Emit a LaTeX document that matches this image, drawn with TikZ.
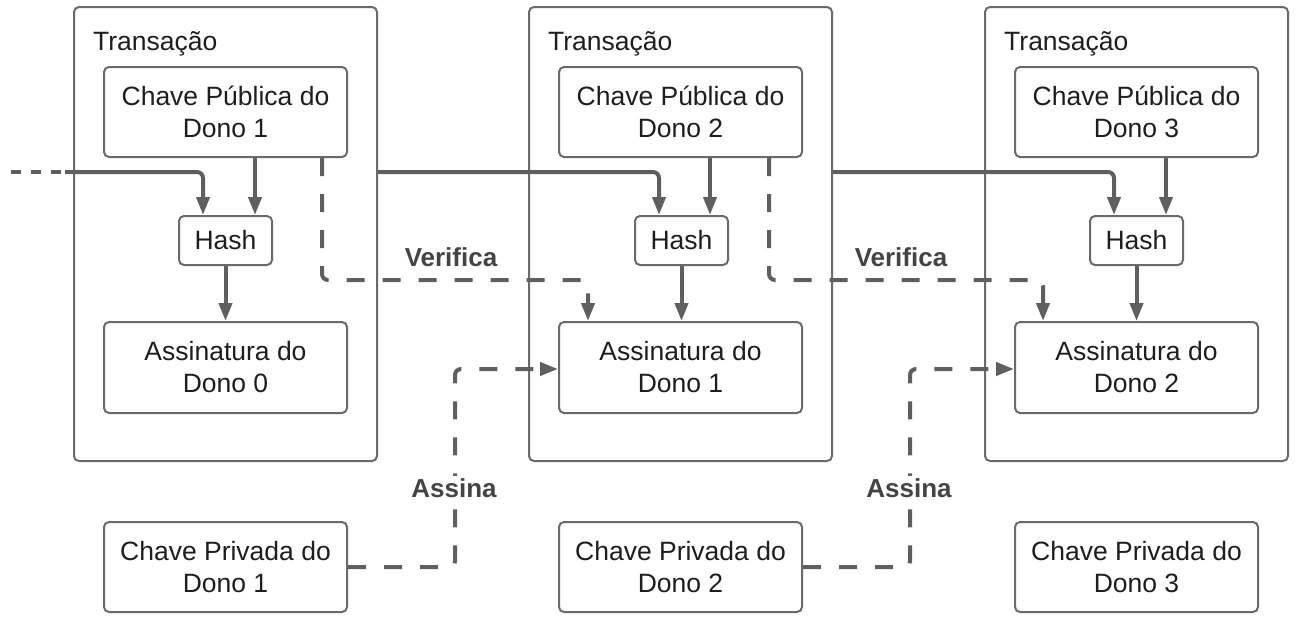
\documentclass[tikz,border=0pt]{standalone}
\usepackage{fontspec}
\setmainfont{Liberation Sans}
\usetikzlibrary{arrows.meta}
\definecolor{boxline}{HTML}{6A6A6A}
\definecolor{conn}{HTML}{5F5F5F}
\definecolor{lbl}{HTML}{444444}
\definecolor{txt}{HTML}{1E1E1E}
\begin{document}
\begin{tikzpicture}[x=1pt,y=-1pt,
  every node/.style={font=\fontsize{26.5}{32}\selectfont, text=txt},
  txbox/.style={draw=boxline, line width=2pt, rounded corners=5pt, minimum width=303pt, minimum height=454pt, inner sep=0pt},
  keybox/.style={draw=boxline, line width=2pt, rounded corners=5pt, fill=white, minimum width=243pt, minimum height=90pt, inner sep=0pt, align=center},
  hashbox/.style={draw=boxline, line width=2pt, rounded corners=5pt, fill=white, minimum width=93pt, minimum height=49pt, inner sep=0pt},
  txlabel/.style={anchor=base west, inner sep=0pt},
  solidconn/.style={draw=conn, line width=4pt, rounded corners=6pt, -{Triangle[length=18pt,width=13pt]}},
  dashconn/.style={draw=conn, line width=4pt, rounded corners=6pt, dash pattern=on 18pt off 18pt, -{Triangle[length=18pt,width=13pt]}},
  connlabel/.style={font=\bfseries\fontsize{26}{30}\selectfont, text=lbl, fill=white, inner sep=2pt}
]
\useasboundingbox (0,0) rectangle (1297,622);

% transaction boxes
\node[txbox] (tx1) at (225.5,234) {};
\node[txbox] (tx2) at (680.5,234) {};
\node[txbox] (tx3) at (1136.5,234) {};
\node[txlabel] (tl1) at (93,50) {Transação};
\node[txlabel] (tl2) at (548,50) {Transação};
\node[txlabel] (tl3) at (1004,50) {Transação};

% public keys
\node[keybox] (pub1) at (225.5,112) {Chave Pública do\\Dono 1};
\node[keybox] (pub2) at (680.5,112) {Chave Pública do\\Dono 2};
\node[keybox] (pub3) at (1136.5,112) {Chave Pública do\\Dono 3};

% hashes
\node[hashbox] (h1) at (225.5,240.5) {Hash};
\node[hashbox] (h2) at (681.5,240.5) {Hash};
\node[hashbox] (h3) at (1136.5,240.5) {Hash};

% signatures
\node[keybox, minimum height=91pt] (sig1) at (225.5,367.5) {Assinatura do\\Dono 0};
\node[keybox, minimum height=91pt] (sig2) at (680.5,367.5) {Assinatura do\\Dono 1};
\node[keybox, minimum height=91pt] (sig3) at (1136.5,367.5) {Assinatura do\\Dono 2};

% private keys
\node[keybox] (priv1) at (225.5,567) {Chave Privada do\\Dono 1};
\node[keybox] (priv2) at (680.5,567) {Chave Privada do\\Dono 2};
\node[keybox] (priv3) at (1136.5,567) {Chave Privada do\\Dono 3};

% incoming line from the left
\coordinate (in0) at (11,172);
\coordinate (in1) at (65,172);
\draw[draw=conn, line width=4pt, dash pattern=on 10pt off 10pt] (in0) -- (in1);
\draw[solidconn] (in1) -- (203,172) -- ([xshift=-22.5pt]h1.north);

% public key -> hash
\draw[solidconn] ([xshift=29.5pt]pub1.south) -- ([xshift=29.5pt]pub1.south |- h1.north);
\draw[solidconn] ([xshift=29.5pt]pub2.south) -- ([xshift=29.5pt]pub2.south |- h2.north);
\draw[solidconn] ([xshift=29.5pt]pub3.south) -- ([xshift=29.5pt]pub3.south |- h3.north);

% hash -> signature
\draw[solidconn] (h1.south) -- (h1.south |- sig1.north);
\draw[solidconn] (h2.south) -- (h2.south |- sig2.north);
\draw[solidconn] (h3.south) -- (h3.south |- sig3.north);

% transaction -> next hash
\draw[solidconn] (tx1.east |- 0,172) -- (659,172) -- (659,0 |- h2.north);
\draw[solidconn] (tx2.east |- 0,172) -- (1114,172) -- (1114,0 |- h3.north);

% verifica
\draw[dashconn] ([xshift=96.5pt]pub1.south) -- (322,280) -- (588,280) -- (588,0 |- sig2.north);
\draw[dashconn] ([xshift=88.5pt]pub2.south) -- (769,280) -- (1043,280) -- (1043,0 |- sig3.north);

% assina
\draw[dashconn] (priv1.east) -- (455,567) -- (455,369) -- (sig2.west |- 0,369);
\draw[dashconn] (priv2.east) -- (910,567) -- (910,369) -- (sig3.west |- 0,369);

% labels
\node[connlabel, fill=none] (v1) at (451,257) {Verifica};
\node[connlabel, fill=none] (v2) at (901,257) {Verifica};
\node[connlabel] (a1) at (454,488) {Assina};
\node[connlabel] (a2) at (909,488) {Assina};
\end{tikzpicture}
\end{document}
